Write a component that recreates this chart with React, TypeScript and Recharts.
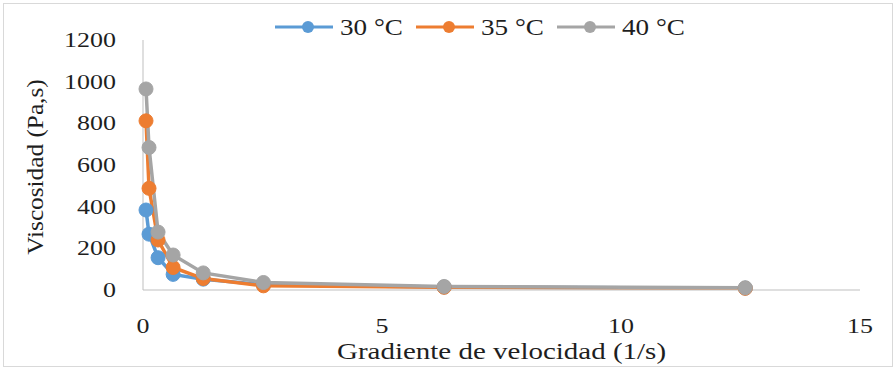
import React from 'react';
import { LineChart, Line, XAxis, YAxis, Label } from 'recharts';

const gradiente = [0.063, 0.126, 0.315, 0.63, 1.26, 2.52, 6.3, 12.6];
const visc30 = [384, 268, 155, 75, 52, 25, 14, 9];
const visc35 = [812, 488, 240, 108, 55, 20, 13, 8];
const visc40 = [965, 684, 278, 168, 82, 36, 17, 11];

const xTicks = [0, 5, 10, 15];
const yTicks = [0, 200, 400, 600, 800, 1000, 1200];

const series = [
  { key: 't30', name: '30 °C', color: '#5B9BD5' },
  { key: 't35', name: '35 °C', color: '#ED7D31' },
  { key: 't40', name: '40 °C', color: '#A5A5A5' },
];

const FONT = 'Liberation Serif';
const INK = '#1e1e1e';
// the original picture is a bit stretched sideways
const SX = 1.18;

const data = gradiente.map((x, i) => ({
  x,
  t30: visc30[i],
  t35: visc35[i],
  t40: visc40[i],
}));

function XTick(props: any) {
  const { x, y, payload } = props;
  return (
    <text x={0} y={0} transform={`translate(${x},${y + 37}) scale(${SX},1)`}
      textAnchor="middle" fontFamily={FONT} fontSize={22} fill={INK}>
      {payload.value}
    </text>
  );
}

function YTick(props: any) {
  const { x, y, payload } = props;
  return (
    <text x={0} y={0} transform={`translate(${x - 21},${y + 7}) scale(${SX},1)`}
      textAnchor="end" fontFamily={FONT} fontSize={22} fill={INK}>
      {payload.value}
    </text>
  );
}

function XTitle(props: any) {
  const { viewBox } = props;
  const cx = viewBox.x + viewBox.width / 2;
  return (
    <text x={0} y={0} transform={`translate(${cx},359) scale(1.26,1)`}
      textAnchor="middle" fontFamily={FONT} fontSize={23} fill={INK}>
      Gradiente de velocidad (1/s)
    </text>
  );
}

function YTitle(props: any) {
  const { viewBox } = props;
  const cy = viewBox.y + viewBox.height / 2 + 2;
  return (
    <text x={0} y={0} transform={`translate(43,${cy}) rotate(-90) scale(1.1,1)`}
      textAnchor="middle" fontFamily={FONT} fontSize={23} fill={INK}>
      Viscosidad (Pa,s)
    </text>
  );
}

function ChartLegend() {
  return (
    <div style={{ position: 'absolute', top: 14, left: 275, display: 'flex', alignItems: 'center' }}>
      {series.map((s) => (
        <div key={s.key} style={{ display: 'flex', alignItems: 'center', width: 141, height: 26 }}>
          <svg width={58} height={16} style={{ display: 'block' }}>
            <line x1={0} y1={8} x2={58} y2={8} stroke={s.color} strokeWidth={3} />
            <circle cx={33} cy={8} r={6} fill={s.color} />
          </svg>
          <span
            style={{
              marginLeft: 7, fontFamily: FONT, fontSize: 24, lineHeight: '26px', color: INK,
              display: 'inline-block', transform: 'scaleX(1.13)', transformOrigin: 'left center',
              whiteSpace: 'nowrap',
            }}
          >
            {s.name}
          </span>
        </div>
      ))}
    </div>
  );
}

export default function App() {
  return (
    <div style={{ position: 'absolute', top: 0, left: 0, width: 896, height: 369, background: '#fff' }}>
      <div style={{ position: 'absolute', top: 3, left: 3, width: 888, height: 362, border: '1px solid #d9d9d9' }} />
      <LineChart width={896} height={369} data={data} margin={{ top: 40, right: 36, bottom: 49, left: 60 }}>
        <XAxis
          dataKey="x"
          type="number"
          domain={[0, 15]}
          ticks={xTicks}
          height={30}
          tickLine={false}
          axisLine={{ stroke: '#bfbfbf' }}
          tick={<XTick />}
          tickMargin={0}
        >
          <Label content={<XTitle />} />
        </XAxis>
        <YAxis
          type="number"
          domain={[0, 1200]}
          ticks={yTicks}
          width={83}
          tickLine={false}
          axisLine={{ stroke: '#bfbfbf' }}
          tick={<YTick />}
          tickMargin={0}
        >
          <Label content={<YTitle />} />
        </YAxis>
        {series.map((s) => (
          <Line
            key={s.key}
            dataKey={s.key}
            name={s.name}
            type="linear"
            stroke={s.color}
            strokeWidth={3.5}
            dot={{ r: 7, fill: s.color, stroke: s.color, strokeWidth: 1 }}
            isAnimationActive={false}
          />
        ))}
      </LineChart>
      <ChartLegend />
    </div>
  );
}
